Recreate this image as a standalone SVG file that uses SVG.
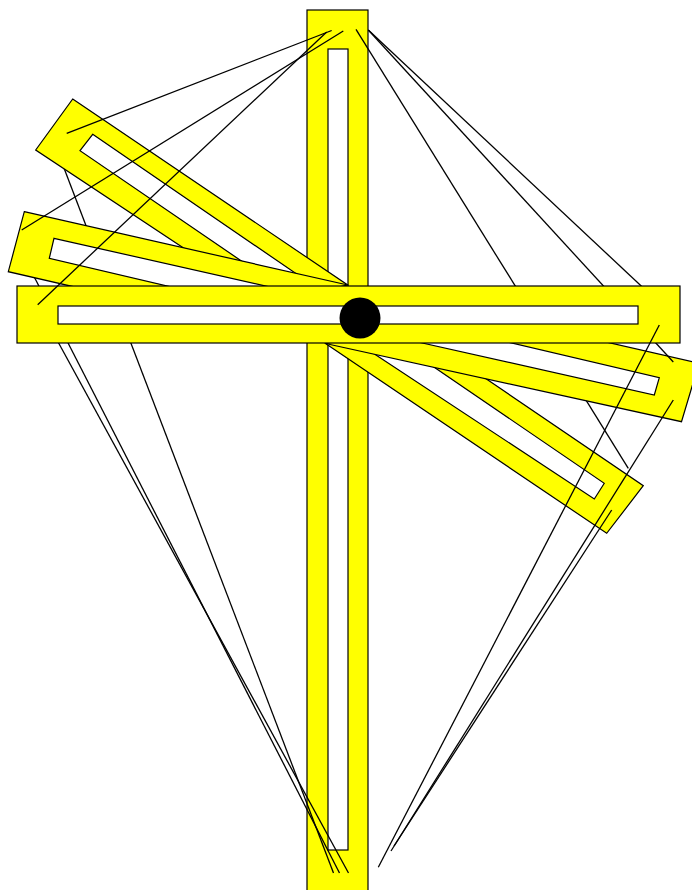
<svg xmlns="http://www.w3.org/2000/svg" width="692" height="890" viewBox="0 0 692 890">
<style>
.bar{fill:#ffff00;stroke:#000;stroke-width:1.2;stroke-linejoin:miter}
.hole{fill:#fff;stroke:#000;stroke-width:1.2}
.str{stroke:#000;stroke-width:1.3;fill:none}
</style>
<rect width="692" height="890" fill="#fff"/>
<g id="vertical-bar">
<rect class="bar" x="307" y="10" width="61" height="885"/>
<rect class="hole" x="328" y="49" width="20" height="801"/>
</g>
<g id="strings-under">
<line class="str" x1="368.3" y1="30" x2="670" y2="313"/>
<line class="str" x1="356" y1="29.3" x2="628.3" y2="468.3"/>
<line class="str" x1="37.7" y1="304.7" x2="348.5" y2="873"/>
<line class="str" x1="23" y1="255" x2="339.5" y2="873"/>
<line class="str" x1="59" y1="155" x2="333.5" y2="873"/>
</g>
<g id="arm-upper-steep">
<polygon class="bar" points="72.7,99 347.7,285 262,300 35.7,150"/>
<polygon class="hole" points="92.7,134.3 300,276.3 300,301 80,150.7"/>
</g>
<g id="arm-upper-shallow">
<polygon class="bar" points="24.3,211.7 347.7,285 200,315.8 8.3,271.7"/>
<polygon class="hole" points="54,238.3 320,298.4 320,321.9 49.3,258.3"/>
</g>
<g id="arm-lower-steep">
<polygon class="bar" points="325.5,343.5 606.7,533.3 643.3,485.7 400,320.3"/>
<polygon class="hole" points="604.3,483.3 594.3,499 360,344.4 380,330.3"/>
</g>
<g id="arm-lower-shallow">
<polygon class="bar" points="325.5,343.5 681.5,421.7 699,363.3 500,317.7"/>
<polygon class="hole" points="659.3,377.7 654.3,395 400,338 480,335.5"/>
</g>
<g id="string-mid">
<line class="str" x1="368.3" y1="30" x2="673.3" y2="362"/>
</g>
<g id="horizontal-bar">
<rect class="bar" x="17" y="286" width="663" height="57"/>
<rect class="hole" x="58" y="306" width="580" height="18"/>
</g>
<g id="pivot">
<circle cx="360" cy="318" r="20.5" fill="#000"/>
</g>
<g id="strings-over">
<line class="str" x1="66.7" y1="133.3" x2="331.7" y2="30.5"/>
<line class="str" x1="21.7" y1="230" x2="343.3" y2="31"/>
<line class="str" x1="37.7" y1="304.7" x2="326.7" y2="32"/>
<line class="str" x1="659.3" y1="325" x2="378.3" y2="867.3"/>
<line class="str" x1="673.3" y1="400" x2="391" y2="851"/>
<line class="str" x1="611.7" y1="510" x2="394" y2="846"/>
</g>
</svg>
